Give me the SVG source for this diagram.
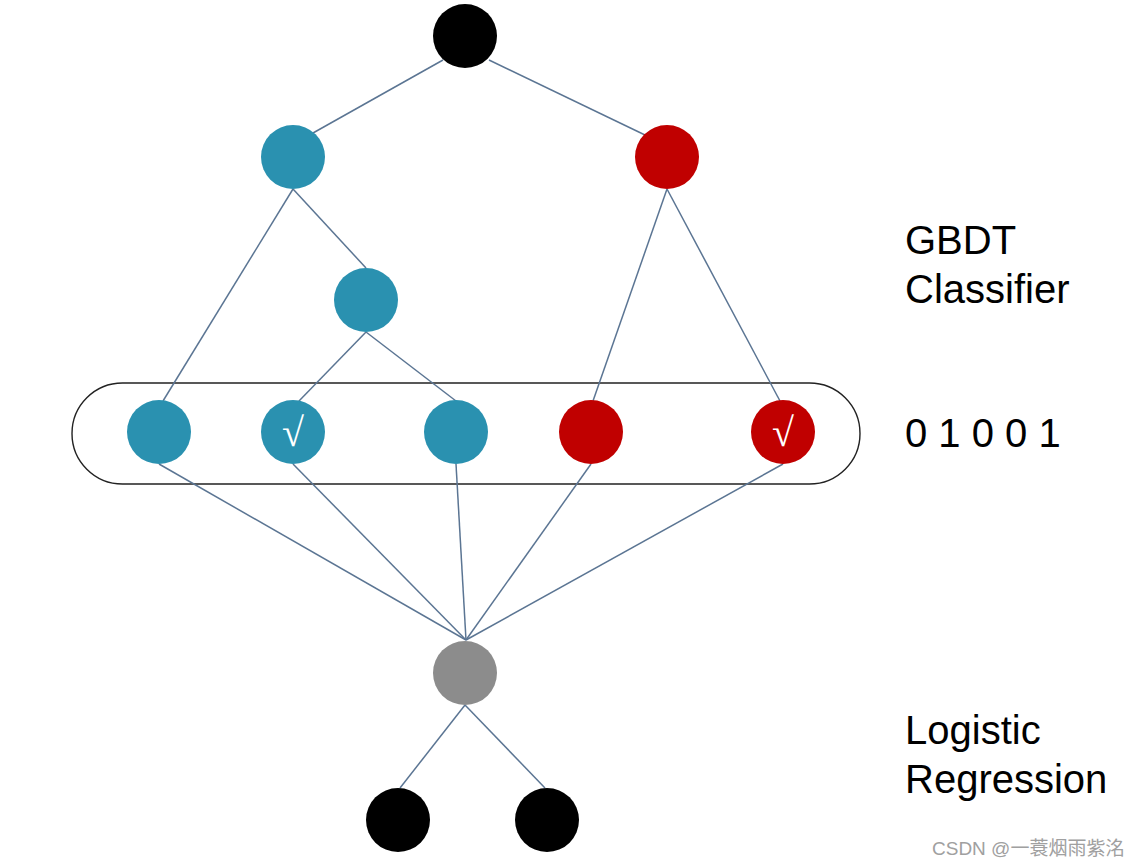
<svg xmlns="http://www.w3.org/2000/svg" width="1139" height="867" viewBox="0 0 1139 867">
<style>
.edge{stroke:#5b7593;stroke-width:1.5;fill:none}
.blue{fill:#2a91b0}
.red{fill:#c00000}
.black{fill:#000}
.gray{fill:#8c8c8c}
.lbl{font-family:"Liberation Sans",Arial,sans-serif;font-size:40px;fill:#000}
.chk{font-family:"Liberation Serif","Times New Roman",serif;font-size:40px;fill:#fff;text-anchor:middle}
.wm{font-family:"Liberation Sans","Noto Sans CJK SC",sans-serif;font-size:19px;fill:#a0a0a0}
</style>
<rect width="1139" height="867" fill="#fff"/>
<rect id="group-box" x="72" y="383" width="788" height="101" rx="50.5" ry="50.5" fill="none" stroke="#222" stroke-width="1.4"/>
<g id="connectors">
<line class="edge" x1="443" y1="60" x2="313" y2="133"/>
<line class="edge" x1="489" y1="60" x2="645" y2="135"/>
<line class="edge" x1="293" y1="189" x2="163" y2="401"/>
<line class="edge" x1="293" y1="189" x2="366" y2="268"/>
<line class="edge" x1="366" y1="332" x2="299" y2="401"/>
<line class="edge" x1="366" y1="332" x2="456" y2="401"/>
<line class="edge" x1="667" y1="189" x2="593" y2="401"/>
<line class="edge" x1="667" y1="189" x2="780" y2="401"/>
<line class="edge" x1="159" y1="464" x2="466" y2="640"/>
<line class="edge" x1="293" y1="464" x2="466" y2="640"/>
<line class="edge" x1="456" y1="464" x2="466" y2="640"/>
<line class="edge" x1="591" y1="464" x2="466" y2="640"/>
<line class="edge" x1="783" y1="464" x2="466" y2="640"/>
<line class="edge" x1="465" y1="705" x2="400" y2="788"/>
<line class="edge" x1="465" y1="705" x2="545" y2="788"/>
</g>
<g id="root"><circle class="black" cx="465" cy="36" r="32"/></g>
<g id="n-blue1"><circle class="blue" cx="293" cy="157" r="32"/></g>
<g id="n-red1"><circle class="red" cx="667" cy="157" r="32"/></g>
<g id="n-blue2"><circle class="blue" cx="366" cy="300" r="32"/></g>
<g id="leaf1"><circle class="blue" cx="159" cy="432" r="32"/></g>
<g id="leaf2"><circle class="blue" cx="293" cy="432" r="32"/><text class="chk" x="293" y="446">√</text></g>
<g id="leaf3"><circle class="blue" cx="456" cy="432" r="32"/></g>
<g id="leaf4"><circle class="red" cx="591" cy="432" r="32"/></g>
<g id="leaf5"><circle class="red" cx="783" cy="432" r="32"/><text class="chk" x="783" y="446">√</text></g>
<g id="lr"><circle class="gray" cx="465" cy="673" r="32"/></g>
<g id="out1"><circle class="black" cx="398" cy="820" r="32"/></g>
<g id="out2"><circle class="black" cx="547" cy="820" r="32"/></g>
<g id="labels">
<text class="lbl" x="905" y="254">GBDT</text>
<text class="lbl" x="905" y="303">Classifier</text>
<text class="lbl" x="905" y="447">0 1 0 0 1</text>
<text class="lbl" x="905" y="744">Logistic</text>
<text class="lbl" x="905" y="793">Regression</text>
<text class="wm" x="932" y="855">CSDN @一蓑烟雨紫洺</text>
</g>
</svg>
